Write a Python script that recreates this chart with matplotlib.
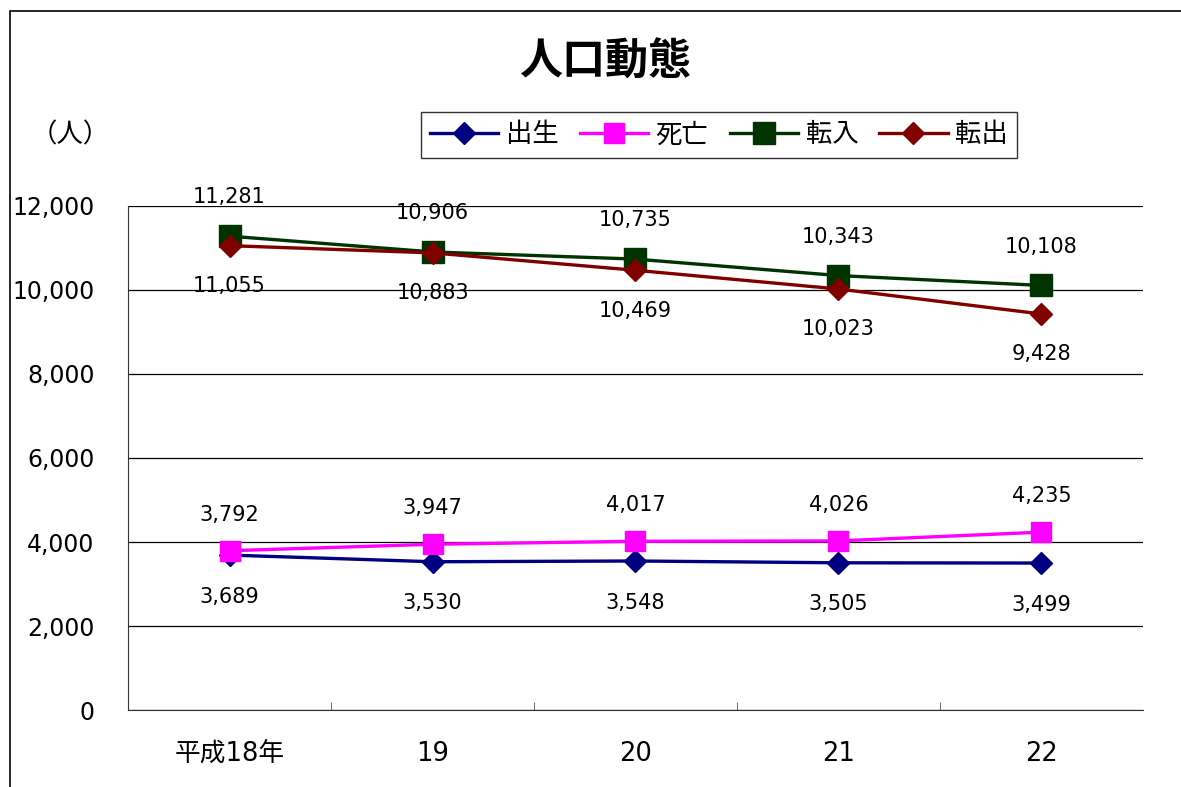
import matplotlib
matplotlib.use('Agg')
import matplotlib.pyplot as plt
from matplotlib.patches import Rectangle
from matplotlib.ticker import FuncFormatter

plt.rcParams['font.family'] = ['Noto Sans CJK JP', 'DejaVu Sans']
NUM_FONT = ['DejaVu Sans', 'Noto Sans CJK JP']

years = ['平成18年', '19', '20', '21', '22']
births = [3689, 3530, 3548, 3505, 3499]
deaths = [3792, 3947, 4017, 4026, 4235]
moved_in = [11281, 10906, 10735, 10343, 10108]
moved_out = [11055, 10883, 10469, 10023, 9428]

fig = plt.figure(figsize=(11.81, 7.87), dpi=100)
ax = fig.add_axes([0.1084, 0.0978, 0.8594, 0.6405])

# outer frame of the chart area
fig.patches.append(Rectangle((10/1181, -0.1), 1.2, 1 - 11/787 + 0.1,
                             transform=fig.transFigure, fill=False,
                             edgecolor='black', linewidth=1.2))

x = list(range(len(years)))

ax.plot(x, births, color='#000080', lw=2.4, marker='D', ms=11, label='出生')
ax.plot(x, deaths, color='#ff00ff', lw=2.4, marker='s', ms=14, label='死亡')
ax.plot(x, moved_in, color='#003300', lw=2.4, marker='s', ms=16, label='転入')
ax.plot(x, moved_out, color='#800000', lw=2.4, marker='D', ms=11, label='転出')

def label(vals, dy):
    for i in x:
        ax.annotate(f'{vals[i]:,}', (i, vals[i]), xytext=(0, dy),
                    textcoords='offset points', ha='center', va='center',
                    fontsize=15, family=NUM_FONT)

label(moved_in, 28)
label(moved_out, -29)
label(deaths, 26)
label(births, -30)

ax.set_xlim(-0.5, 4.5)
ax.set_ylim(0, 12000)
ax.set_yticks(range(0, 12001, 2000))
ax.yaxis.set_major_formatter(FuncFormatter(lambda v, p: f'{int(v):,}'))
ax.tick_params(axis='y', length=0, pad=24)
for t in ax.get_yticklabels():
    t.set_fontsize(17)
    t.set_family(NUM_FONT)
ax.set_xticks(x)
ax.set_xticklabels(years, fontsize=18.5, family=NUM_FONT)
ax.set_xticks([0.5, 1.5, 2.5, 3.5], minor=True)
ax.tick_params(axis='x', which='major', length=0, pad=22)
ax.tick_params(axis='x', which='minor', direction='in', length=6, color='#555555')
ax.grid(axis='y', color='black', lw=0.9)
ax.set_axisbelow(True)
ax.spines['right'].set_visible(False)
ax.spines['top'].set_visible(False)
ax.spines['left'].set_color('#333333')
ax.spines['bottom'].set_color('#333333')

fig.text(605/1181, 1 - 62/787, '人口動態', ha='center', va='center',
         fontsize=31, fontweight='bold')
fig.text(70/1181, 1 - 135/787, '（人）', ha='center', va='center', fontsize=19)

leg = ax.legend(loc='center', bbox_to_anchor=(719/1181, 1 - 135/787),
                bbox_transform=fig.transFigure, ncol=4, fontsize=19,
                frameon=True, fancybox=False, edgecolor='black',
                handlelength=2.58, columnspacing=0.8, handletextpad=0.3,
                borderpad=0.35)
leg.get_frame().set_linewidth(1.0)

fig.savefig('out.png', dpi=100)
